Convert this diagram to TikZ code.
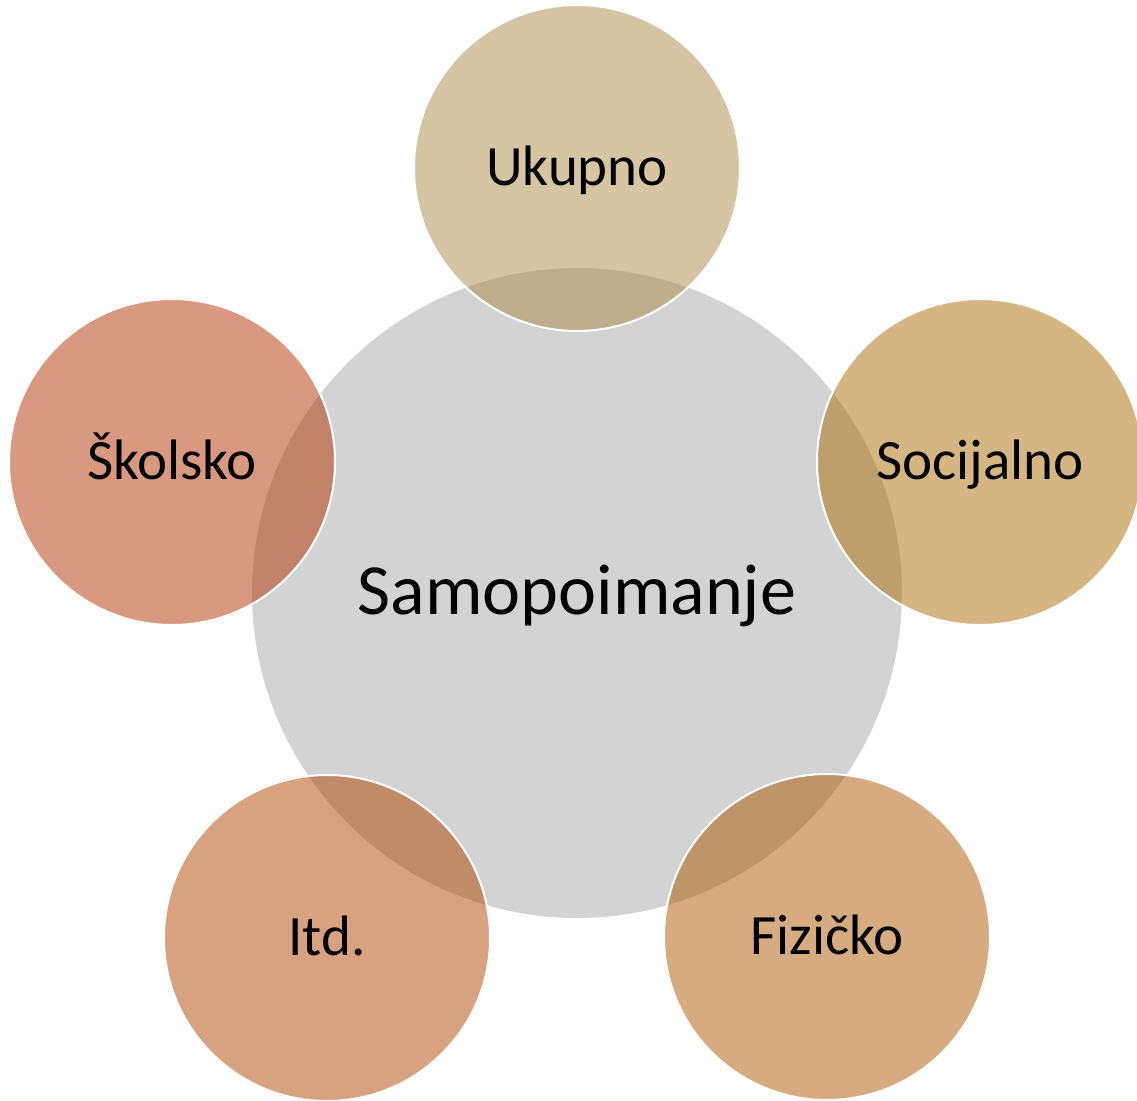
\documentclass[tikz,border=0pt]{standalone}
\usepackage{fontspec}
\setmainfont{Carlito}
\definecolor{sivo}{RGB}{211,211,211}
\definecolor{ukupnoboja}{RGB}{173,139,71}
\definecolor{socijalnoboja}{RGB}{171,109,5}
\definecolor{fizickoboja}{RGB}{171,87,0}
\definecolor{itdboja}{RGB}{177,69,3}
\definecolor{skolskoboja}{RGB}{179,49,1}
\begin{document}
\begin{tikzpicture}[x=1pt,y=-1pt,
	sredina/.style={circle,fill=sivo,draw=white,line width=2pt,minimum size=652pt,inner sep=0pt,text height=42pt,text depth=0pt,font=\fontsize{72}{80}\selectfont},
	krug/.style={circle,fill=#1,fill opacity=0.5,text opacity=1,draw=white,line width=2pt,minimum size=326pt,inner sep=0pt,text height=34pt,text depth=0pt,font=\fontsize{57}{62}\selectfont}]
	\useasboundingbox (0,0) rectangle (1137,1100);
	\node[sredina] (S) at (577,593) {Samopoimanje};
	\node[krug=ukupnoboja] (U) at (577,168) {Ukupno};
	\node[krug=socijalnoboja] (So) at (980,462) {Socijalno};
	\node[krug=fizickoboja] (F) at (827,937) {Fizičko};
	\node[krug=itdboja] (I) at (327,938) {Itd.};
	\node[krug=skolskoboja] (Sk) at (172,462) {Školsko};
\end{tikzpicture}
\end{document}
